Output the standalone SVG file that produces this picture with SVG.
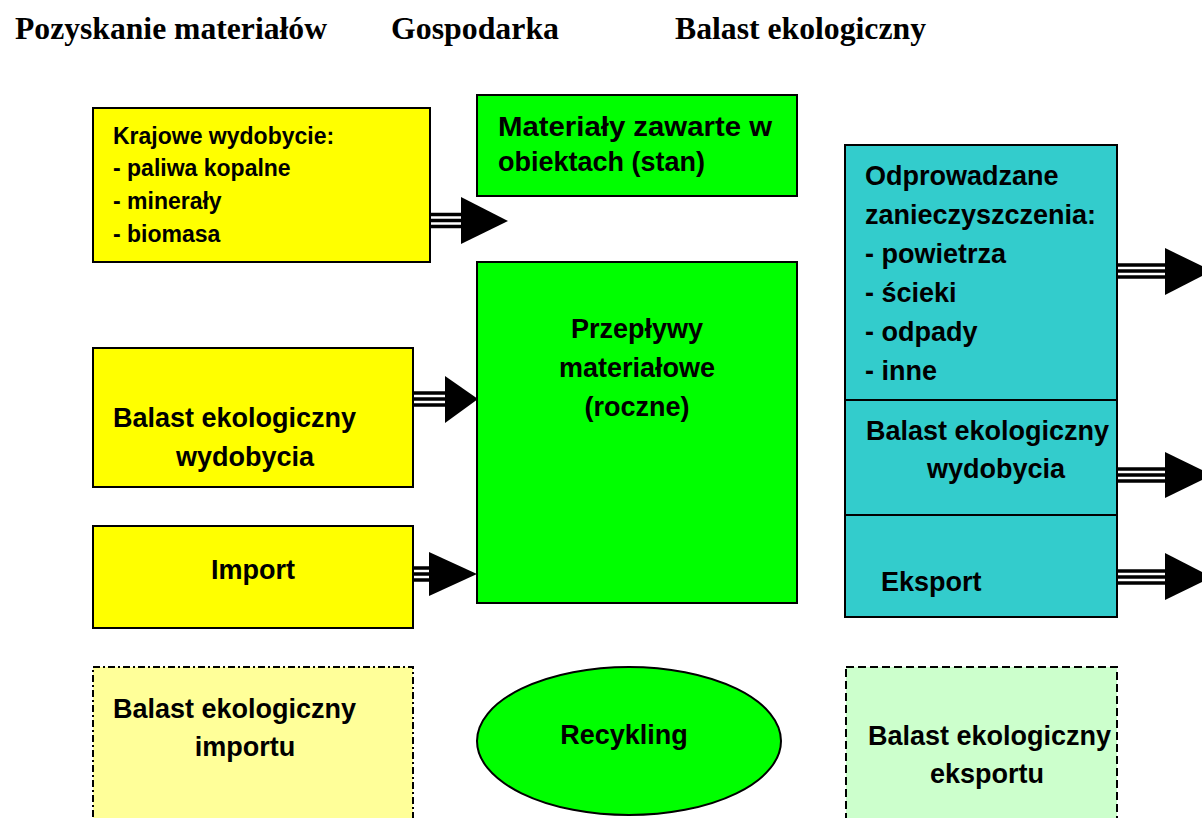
<svg xmlns="http://www.w3.org/2000/svg" width="1202" height="818" viewBox="0 0 1202 818">
<style>
.hdr{font-family:"Liberation Serif","Times New Roman",serif;font-weight:bold;font-size:32px;fill:#000}
.t{font-family:"Liberation Sans",Arial,sans-serif;font-weight:bold;font-size:27px;fill:#000}
.s{font-family:"Liberation Sans",Arial,sans-serif;font-weight:bold;font-size:23px;fill:#000}
.box{stroke:#000;stroke-width:2}
.y{fill:#FFFF00}.g{fill:#00FF00}.c{fill:#33CCCC}
.shaft{stroke:#000;stroke-width:3.5;fill:none}
.head{fill:#000}
</style>
<rect width="1202" height="818" fill="#fff"/>
<g id="headers">
<text class="hdr" x="15" y="39" textLength="312" lengthAdjust="spacingAndGlyphs">Pozyskanie materiałów</text>
<text class="hdr" x="391" y="39" textLength="168" lengthAdjust="spacingAndGlyphs">Gospodarka</text>
<text class="hdr" x="675" y="39" textLength="251" lengthAdjust="spacingAndGlyphs">Balast ekologiczny</text>
</g>
<g id="krajowe">
<rect class="box y" x="93" y="108" width="337" height="154"/>
<text class="s" x="113" y="144">Krajowe wydobycie:</text>
<text class="s" x="113" y="176">- paliwa kopalne</text>
<text class="s" x="113" y="209">- minerały</text>
<text class="s" x="113" y="242">- biomasa</text>
</g>
<g id="materialy">
<rect class="box g" x="477" y="95" width="320" height="101"/>
<text class="t" x="498" y="136" textLength="274" lengthAdjust="spacingAndGlyphs">Materiały zawarte w</text>
<text class="t" x="498" y="171">obiektach (stan)</text>
</g>
<g id="przeplywy">
<rect class="box g" x="477" y="262" width="320" height="341"/>
<text class="t" x="637" y="338" text-anchor="middle">Przepływy</text>
<text class="t" x="637" y="377" text-anchor="middle">materiałowe</text>
<text class="t" x="637" y="416" text-anchor="middle">(roczne)</text>
</g>
<g id="balast-wydobycia-l">
<rect class="box y" x="93" y="348" width="320" height="139"/>
<text class="t" x="113" y="427">Balast ekologiczny</text>
<text class="t" x="245" y="466" text-anchor="middle">wydobycia</text>
</g>
<g id="import">
<rect class="box y" x="93" y="526" width="320" height="102"/>
<text class="t" x="253" y="579" text-anchor="middle">Import</text>
</g>
<g id="balast-importu">
<rect x="93" y="667" width="320" height="160" fill="#FFFF99" stroke="#000" stroke-width="2" stroke-dasharray="7,3,2,3"/>
<text class="t" x="113" y="718">Balast ekologiczny</text>
<text class="t" x="245" y="756" text-anchor="middle">importu</text>
</g>
<g id="recykling">
<ellipse cx="629" cy="741" rx="152" ry="74" fill="#00FF00" stroke="#000" stroke-width="2"/>
<text class="t" x="624" y="744" text-anchor="middle">Recykling</text>
</g>
<g id="odprowadzane">
<rect class="box c" x="845" y="145" width="272" height="255"/>
<text class="t" x="865" y="185">Odprowadzane</text>
<text class="t" x="865" y="224">zanieczyszczenia:</text>
<text class="t" x="865" y="263">- powietrza</text>
<text class="t" x="865" y="302">- ścieki</text>
<text class="t" x="865" y="341">- odpady</text>
<text class="t" x="865" y="380">- inne</text>
</g>
<g id="balast-wydobycia-r">
<rect class="box c" x="845" y="400" width="272" height="115"/>
<text class="t" x="866" y="440">Balast ekologiczny</text>
<text class="t" x="996" y="478" text-anchor="middle">wydobycia</text>
</g>
<g id="eksport">
<rect class="box c" x="845" y="515" width="272" height="102"/>
<text class="t" x="881" y="591">Eksport</text>
</g>
<g id="balast-eksportu">
<rect x="846" y="667" width="271" height="160" fill="#CCFFCC" stroke="#000" stroke-width="2" stroke-dasharray="8,4"/>
<text class="t" x="868" y="745">Balast ekologiczny</text>
<text class="t" x="987" y="783" text-anchor="middle">eksportu</text>
</g>
<g id="connectors">
<path class="shaft" d="M431 214.5H462M431 220.5H462M431 226.5H462"/>
<polygon class="head" points="461,197 508,221 461,244"/>
<path class="shaft" d="M414 393H446M414 399H446M414 405H446"/>
<polygon class="head" points="445,376 478,399 445,423"/>
<path class="shaft" d="M414 568H430M414 574H430M414 580H430"/>
<polygon class="head" points="429,552 477,574 429,596"/>
<path class="shaft" d="M1118 265H1166M1118 271H1166M1118 277H1166"/>
<polygon class="head" points="1165,248 1212,271 1165,295"/>
<path class="shaft" d="M1118 469H1166M1118 475H1166M1118 481H1166"/>
<polygon class="head" points="1165,452 1212,475 1165,498"/>
<path class="shaft" d="M1118 571H1166M1118 577H1166M1118 583H1166"/>
<polygon class="head" points="1165,553 1212,577 1165,600"/>
</g>
</svg>
